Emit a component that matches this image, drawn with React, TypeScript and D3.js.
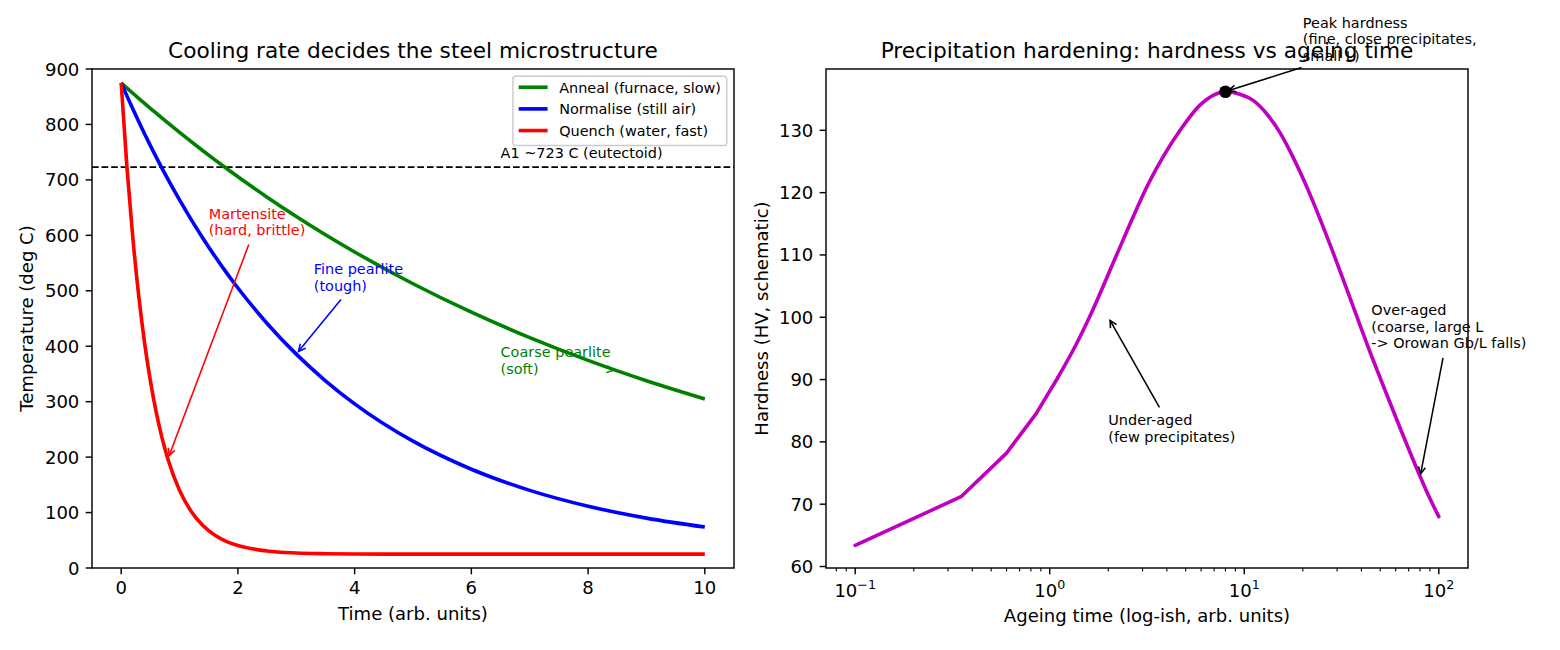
import { useEffect, useRef } from 'react';
import * as d3 from 'd3';

// figure was 12x5 in at 130 dpi, so 1 pt = 130/72 px
const PT = 130 / 72;
const FONT = "'DejaVu Sans', sans-serif";
const FS_TICK = 10 * PT;
const FS_TITLE = 12 * PT;
const FS_NOTE = 8 * PT;

// left panel: cooling curves (deg C vs arb. time)
const coolTime = [0, 0.1, 0.2, 0.3, 0.4, 0.5, 0.6, 0.7, 0.8, 1.0, 1.2, 1.4, 1.6, 1.8, 2.0, 2.5, 3, 3.5, 4, 5, 6, 7, 8, 9, 10];
const annealTemp = [875, 865.6, 856.3, 847.1, 838.0, 829.1, 820.2, 811.4, 802.7, 785.6, 768.9, 752.5, 736.5, 720.9, 705.6, 668.9, 634.1, 601.1, 570.0, 512.7, 461.4, 415.5, 374.4, 337.7, 304.8];
const normaliseTemp = [875, 851.1, 827.8, 805.2, 783.2, 761.8, 741.1, 720.9, 701.3, 663.8, 628.3, 594.8, 563.1, 533.2, 505.0, 441.1, 385.7, 337.7, 296.1, 228.7, 178.1, 140.0, 111.4, 90.0, 73.8];
const quenchTemp = [875, 720.9, 594.8, 491.5, 406.9, 337.7, 281.0, 234.6, 196.6, 140.0, 102.1, 76.7, 59.6, 48.2, 40.6, 30.7, 27.1, 25.8, 25.3, 25.0, 25.0, 25.0, 25.0, 25.0, 25.0];
const coolNames = ['Anneal (furnace, slow)', 'Normalise (still air)', 'Quench (water, fast)'];
const coolColors = ['#008000', '#0000ff', '#ff0000'];
const eutectoidTemp = 723;
const timeTicks = [0, 2, 4, 6, 8, 10];
const tempTicks = [0, 100, 200, 300, 400, 500, 600, 700, 800, 900];

// right panel: ageing curve (HV vs ageing time, log axis)
const ageTime = [0.1, 0.35, 0.6, 0.85, 1.1, 1.35, 1.6, 2.2, 2.7, 3.2, 3.85, 4.7, 5.9, 7, 8, 9.5, 11.1, 13, 15.2, 17.8, 20.9, 24.5, 28.6, 36.3, 46, 53.2, 65, 78.3, 90, 100];
const hardness = [63.4, 71.2, 78.2, 84.5, 90.3, 95.3, 100, 109.9, 116.3, 121.3, 125.9, 130.1, 134.0, 135.7, 136.2, 135.8, 134.8, 132.7, 129.7, 125.7, 121.0, 115.8, 110.4, 101.7, 93.1, 88.1, 81.3, 75.2, 70.9, 68.0];
const hardTicks = [60, 70, 80, 90, 100, 110, 120, 130];
const ageDecades = [-1, 0, 1, 2];
const peakAge = 8;
const peakHard = 136.2;

type Sel = d3.Selection<any, unknown, null, undefined>;

function frameAndTitle(g: Sel, x0: number, y0: number, w: number, h: number, title: string) {
    g.append('rect')
        .attr('x', x0).attr('y', y0).attr('width', w).attr('height', h)
        .attr('fill', 'none').attr('stroke', '#000').attr('stroke-width', 0.8 * PT);
    g.append('text')
        .attr('x', x0 + w / 2).attr('y', 58)
        .attr('text-anchor', 'middle')
        .style('font-size', `${FS_TITLE}px`)
        .text(title);
}

function yTicks(g: Sel, scale: d3.ScaleLinear<number, number>, ticks: number[], x0: number) {
    ticks.forEach(t => {
        const y = scale(t);
        g.append('line').attr('x1', x0 - 3.5 * PT).attr('x2', x0).attr('y1', y).attr('y2', y)
            .attr('stroke', '#000').attr('stroke-width', 0.8 * PT);
        g.append('text')
            .attr('x', x0 - 7 * PT).attr('y', y).attr('dy', '0.36em')
            .attr('text-anchor', 'end')
            .style('font-size', `${FS_TICK}px`)
            .text(String(t));
    });
}

// annotate with an '->' arrow, text placed at (tx, ty) baseline of last line, in pixels
function annotate(g: Sel, lines: string[], tx: number, ty: number, px: number, py: number, color: string) {
    const lineGap = 16.5;
    const text = g.append('text')
        .style('font-size', `${FS_NOTE}px`)
        .attr('fill', color);
    lines.forEach((l, i) => {
        text.append('tspan').attr('x', tx).attr('y', ty - (lines.length - 1 - i) * lineGap).text(l);
    });
    const bb = (text.node() as SVGTextElement).getBBox();
    const pad = 2 * PT;
    const bx0 = bb.x - pad, bx1 = bb.x + bb.width + pad;
    const by0 = bb.y + 0.12 * FS_NOTE - pad, by1 = bb.y + bb.height - 0.05 * FS_NOTE + pad;
    const cx = (bx0 + bx1) / 2, cy = (by0 + by1) / 2;
    const dx = px - cx, dy = py - cy;
    const len = Math.hypot(dx, dy);
    const ux = dx / len, uy = dy / len;
    const s = Math.min(Math.abs((bx1 - cx) / (dx || 1e-9)), Math.abs((by1 - cy) / (dy || 1e-9)));
    const shrink = 2 * PT;
    const sx = cx + dx * s + ux * shrink, sy = cy + dy * s + uy * shrink;
    const ex = px - ux * shrink, ey = py - uy * shrink;
    const arrow = g.append('g').attr('stroke', color).attr('stroke-width', 1 * PT * 0.85).attr('fill', 'none');
    if ((ex - sx) * ux + (ey - sy) * uy > 0) {
        arrow.append('line').attr('x1', sx).attr('y1', sy).attr('x2', ex).attr('y2', ey);
    }
    const hl = 0.4 * 8 * PT * 1.2, hw = 0.2 * 8 * PT * 1.2;
    const bx = ex - ux * hl, by = ey - uy * hl;
    arrow.append('path')
        .attr('d', `M${bx - uy * hw},${by + ux * hw}L${ex},${ey}L${bx + uy * hw},${by - ux * hw}`);
}

function drawCooling(svg: Sel) {
    const L = 92, R = 734, T = 69, B = 568;
    const x = d3.scaleLinear().domain([-0.5, 10.5]).range([L, R]);
    const y = d3.scaleLinear().domain([0, 900]).range([B, T]);
    const g = svg.append('g');

    // eutectoid line
    g.append('line')
        .attr('x1', L).attr('x2', R).attr('y1', y(eutectoidTemp)).attr('y2', y(eutectoidTemp))
        .attr('stroke', '#000').attr('stroke-width', PT).attr('stroke-dasharray', `${3.7 * PT},${1.6 * PT}`);
    g.append('text')
        .attr('x', x(6.5)).attr('y', y(740))
        .style('font-size', `${FS_NOTE}px`)
        .text('A1 ~723 C (eutectoid)');

    const line = d3.line<number>()
        .x((_, i) => x(coolTime[i]))
        .y(d => y(d))
        .curve(d3.curveMonotoneX);
    [annealTemp, normaliseTemp, quenchTemp].forEach((vals, k) => {
        g.append('path')
            .attr('d', line(vals))
            .attr('fill', 'none')
            .attr('stroke', coolColors[k])
            .attr('stroke-width', 2 * PT)
            .attr('stroke-linejoin', 'round');
    });

    // annotations
    annotate(g, ['Martensite', '(hard, brittle)'], x(1.5), y(600), x(0.8), y(196.6), '#ff0000');
    annotate(g, ['Fine pearlite', '(tough)'], x(3.3), y(500), x(3), y(385.7), '#0000ff');
    annotate(g, ['Coarse pearlite', '(soft)'], x(6.5), y(350), x(8.5), y(355.6), '#008000');

    // axes ticks
    timeTicks.forEach(t => {
        g.append('line').attr('x1', x(t)).attr('x2', x(t)).attr('y1', B).attr('y2', B + 3.5 * PT)
            .attr('stroke', '#000').attr('stroke-width', 0.8 * PT);
        g.append('text').attr('x', x(t)).attr('y', B + 7 * PT + 0.76 * FS_TICK)
            .attr('text-anchor', 'middle').style('font-size', `${FS_TICK}px`).text(String(t));
    });
    yTicks(g, y, tempTicks, L);

    g.append('text').attr('x', (L + R) / 2).attr('y', 620).attr('text-anchor', 'middle')
        .style('font-size', `${FS_TICK}px`).text('Time (arb. units)');
    g.append('text').attr('transform', `translate(33,${(T + B) / 2}) rotate(-90)`).attr('text-anchor', 'middle')
        .style('font-size', `${FS_TICK}px`).text('Temperature (deg C)');

    // legend
    const fs = FS_NOTE;
    const lg = g.append('g');
    const lgR = R - 0.5 * fs, lgT = T + 0.5 * fs;
    const items = lg.append('g');
    const texts: SVGTextElement[] = [];
    coolNames.forEach((name, i) => {
        const t = items.append('text').attr('y', lgT + 11 + i * 1.5 * fs + 5.5)
            .style('font-size', `${fs}px`).text(name);
        texts.push(t.node() as SVGTextElement);
    });
    const tw = d3.max(texts, t => t.getComputedTextLength()) || 0;
    const lgW = 0.4 * fs + 2 * fs + 0.8 * fs + tw + 0.4 * fs;
    const lgL = lgR - lgW;
    const lgH = 0.4 * fs * 2 + 2 * 1.5 * fs + fs * 1.0;
    lg.insert('rect', ':first-child')
        .attr('x', lgL).attr('y', lgT).attr('width', lgW).attr('height', lgH)
        .attr('rx', 0.2 * fs).attr('fill', 'rgba(255,255,255,0.8)')
        .attr('stroke', '#cccccc').attr('stroke-width', PT * 0.8);
    coolNames.forEach((_, i) => {
        const cy = lgT + 11 + i * 1.5 * fs;
        items.append('line')
            .attr('x1', lgL + 0.4 * fs).attr('x2', lgL + 2.4 * fs).attr('y1', cy).attr('y2', cy)
            .attr('stroke', coolColors[i]).attr('stroke-width', 2 * PT);
    });
    texts.forEach(t => d3.select(t).attr('x', lgL + 3.2 * fs));

    frameAndTitle(g, L, T, R - L, B - T, 'Cooling rate decides the steel microstructure');
}

function drawAgeing(svg: Sel) {
    const L = 826, R = 1468, T = 69, B = 568;
    const x = d3.scaleLog().domain([Math.pow(10, -1.15), Math.pow(10, 2.15)]).range([L, R]);
    const y = d3.scaleLinear().domain([59.76, 139.84]).range([B, T]);
    const g = svg.append('g');

    const pts = ageTime.map((t, i) => [x(t), y(hardness[i])] as [number, number]);
    const coarse = d3.line().curve(d3.curveLinear);
    const smooth = d3.line().curve(d3.curveMonotoneX);
    const split = ageTime.indexOf(1.1);
    [coarse(pts.slice(0, split + 1)), smooth(pts.slice(split))].forEach(d => {
        g.append('path').attr('d', d).attr('fill', 'none')
            .attr('stroke', '#bf00bf').attr('stroke-width', 2 * PT)
            .attr('stroke-linecap', 'round').attr('stroke-linejoin', 'round');
    });

    g.append('circle').attr('cx', x(peakAge)).attr('cy', y(peakHard)).attr('r', 6.3).attr('fill', '#000');

    annotate(g, ['Peak hardness', '(fine, close precipitates,', 'small L)'], x(20), y(peakHard + 5), x(peakAge), y(peakHard), '#000');
    annotate(g, ['Under-aged', '(few precipitates)'], x(2), y(80), x(2), y(100), '#000');
    annotate(g, ['Over-aged', '(coarse, large L', '-> Orowan Gb/L falls)'], x(45), y(95), x(80), y(74.3), '#000');

    // log x ticks
    const [d0, d1] = x.domain();
    for (let e = -2; e <= 2; e++) {
        for (let m = 2; m <= 9; m++) {
            const v = m * Math.pow(10, e);
            if (v < d0 || v > d1) continue;
            g.append('line').attr('x1', x(v)).attr('x2', x(v)).attr('y1', B).attr('y2', B + 2 * PT)
                .attr('stroke', '#000').attr('stroke-width', 0.6 * PT);
        }
    }
    ageDecades.forEach(e => {
        const xv = x(Math.pow(10, e));
        g.append('line').attr('x1', xv).attr('x2', xv).attr('y1', B).attr('y2', B + 3.5 * PT)
            .attr('stroke', '#000').attr('stroke-width', 0.8 * PT);
        const t = g.append('text').attr('x', xv).attr('y', 597).attr('text-anchor', 'middle')
            .style('font-size', `${FS_TICK}px`);
        t.append('tspan').text('10');
        t.append('tspan').attr('dy', -8.3).style('font-size', `${FS_TICK * 0.7}px`)
            .text(e < 0 ? `\u2212${-e}` : String(e));
    });
    yTicks(g, y, hardTicks, L);

    g.append('text').attr('x', (L + R) / 2).attr('y', 622).attr('text-anchor', 'middle')
        .style('font-size', `${FS_TICK}px`).text('Ageing time (log-ish, arb. units)');
    g.append('text').attr('transform', `translate(768,${(T + B) / 2}) rotate(-90)`).attr('text-anchor', 'middle')
        .style('font-size', `${FS_TICK}px`).text('Hardness (HV, schematic)');

    frameAndTitle(g, L, T, R - L, B - T, 'Precipitation hardening: hardness vs ageing time');
}

export default function App() {
    const svgRef = useRef<SVGSVGElement>(null);

    useEffect(() => {
        const svg = d3.select(svgRef.current) as unknown as Sel;
        svg.selectAll('*').remove();
        svg.append('rect').attr('width', 1560).attr('height', 650).attr('fill', '#fff');
        drawCooling(svg);
        drawAgeing(svg);
    }, []);

    return (
        <svg
            ref={svgRef}
            width={1560}
            height={650}
            style={{ position: 'absolute', left: 0, top: 0, fontFamily: FONT }}
        />
    );
}
